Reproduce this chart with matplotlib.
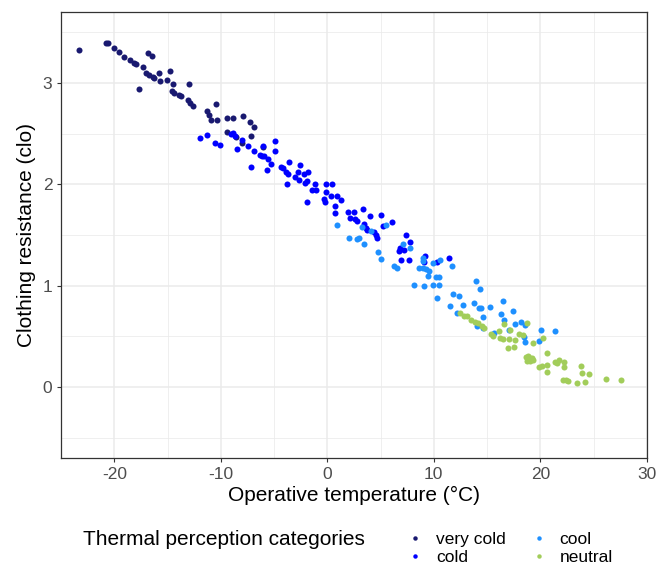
import matplotlib
matplotlib.use("Agg")
import matplotlib.pyplot as plt
from matplotlib.lines import Line2D
import numpy as np

plt.rcParams["font.family"] = ["Liberation Sans", "DejaVu Sans"]
plt.rcParams["axes.unicode_minus"] = False

# operative temperature (degC) and clothing resistance (clo) per category
very_cold_x = [-23.34, -20.78, -20.62, -20.06, -19.53, -19.06, -18.53, -18.13, -17.94, -17.34,
               -16.87, -16.47, -17.03, -16.72, -16.40, -16.25, -15.84, -15.75, -14.78, -15.06,
               -14.47, -17.66, -14.59, -14.38, -13.91, -13.75, -13.12, -12.88, -12.56, -12.97,
               -10.47, -11.25, -11.10, -10.94, -10.37, -9.44, -8.85, -7.87, -7.25, -6.88,
               -9.44, -8.59, -8.00, -7.19, -6.06]
very_cold_y = [3.33, 3.39, 3.39, 3.34, 3.31, 3.26, 3.23, 3.20, 3.19, 3.16,
               3.30, 3.27, 3.10, 3.08, 3.06, 3.05, 3.10, 3.02, 3.12, 3.03,
               2.99, 2.94, 2.92, 2.90, 2.88, 2.87, 2.83, 2.80, 2.77, 2.99,
               2.79, 2.72, 2.68, 2.63, 2.63, 2.65, 2.65, 2.67, 2.61, 2.57,
               2.52, 2.47, 2.41, 2.48, 2.37]

cold_x = [-11.94, -11.25, -10.56, -10.07, -9.06, -8.81, -8.69, -8.43, -7.97, -7.47,
          -7.19, -6.88, -6.32, -6.11, -5.94, -6.00, -5.57, -5.64, -5.25, -4.94,
          -4.94, -4.38, -4.12, -3.91, -3.60, -3.66, -3.75, -3.06, -2.57, -2.76,
          -2.66, -2.19, -1.78, -2.10, -1.94, -1.16, -1.41, -1.10, -1.94, -0.16,
          0.47, -0.09, -0.32, -0.22, 0.37, 0.94, 1.25, 0.71, 0.71, 1.93,
          2.49, 3.34, 2.18, 2.56, 2.75, 3.99, 5.00, 3.43, 3.59, 3.75,
          4.37, 4.62, 4.69, 5.25, 6.12, 7.43, 7.81, 6.87, 6.71, 7.18,
          6.94, 7.71, 9.21, 9.05, 10.31, 11.43]
cold_y = [2.46, 2.49, 2.41, 2.39, 2.50, 2.51, 2.48, 2.35, 2.44, 2.38,
          2.17, 2.33, 2.29, 2.28, 2.28, 2.38, 2.25, 2.14, 2.20, 2.33,
          2.43, 2.17, 2.16, 2.12, 2.22, 2.10, 2.00, 2.07, 2.19, 2.12,
          2.04, 2.10, 2.12, 2.01, 2.03, 2.00, 1.94, 1.94, 1.83, 2.00,
          2.00, 1.92, 1.86, 1.83, 1.88, 1.88, 1.85, 1.79, 1.72, 1.73,
          1.73, 1.76, 1.67, 1.66, 1.64, 1.69, 1.70, 1.61, 1.57, 1.55,
          1.53, 1.50, 1.47, 1.59, 1.63, 1.50, 1.43, 1.37, 1.34, 1.35,
          1.25, 1.25, 1.29, 1.23, 1.23, 1.27]

cool_x = [0.94, 3.28, 4.06, 2.02, 2.81, 2.96, 3.43, 5.56, 7.12, 7.81,
          4.74, 5.06, 6.24, 6.56, 9.00, 9.00, 9.93, 10.62, 11.72, 8.58,
          9.00, 9.31, 9.52, 9.43, 10.24, 10.46, 8.18, 9.12, 9.93, 10.46,
          10.31, 11.81, 12.33, 13.93, 14.30, 12.75, 13.81, 14.21, 14.43, 15.30,
          16.49, 16.31, 16.62, 17.39, 14.62, 14.06, 14.62, 15.61, 17.58, 18.21,
          18.52, 18.43, 17.02, 20.08, 19.90, 21.40, 18.58, 11.49, 12.17]
cool_y = [1.60, 1.58, 1.54, 1.47, 1.46, 1.47, 1.41, 1.60, 1.41, 1.37,
          1.33, 1.26, 1.19, 1.17, 1.27, 1.24, 1.22, 1.25, 1.19, 1.17,
          1.17, 1.16, 1.14, 1.10, 1.09, 1.09, 1.01, 1.00, 1.01, 1.01,
          0.88, 0.92, 0.90, 1.05, 0.97, 0.81, 0.83, 0.78, 0.78, 0.79,
          0.85, 0.72, 0.66, 0.75, 0.69, 0.60, 0.58, 0.53, 0.62, 0.64,
          0.61, 0.49, 0.56, 0.56, 0.45, 0.55, 0.44, 0.80, 0.73]

neutral_x = [12.49, 12.87, 13.15, 13.52, 13.89, 14.11, 14.53, 14.68, 15.37, 15.56,
             16.08, 16.24, 16.49, 16.62, 17.18, 17.02, 17.65, 16.93, 17.55, 18.02,
             18.37, 18.74, 19.33, 20.24, 18.68, 18.87, 18.99, 19.21, 19.05, 19.33,
             18.77, 20.62, 21.40, 21.80, 22.24, 21.61, 20.15, 20.67, 20.62, 19.85,
             22.27, 23.81, 23.90, 24.61, 22.17, 22.43, 22.64, 23.49, 24.21, 26.18,
             27.58]
neutral_y = [0.73, 0.70, 0.70, 0.66, 0.64, 0.63, 0.60, 0.58, 0.52, 0.50,
             0.55, 0.48, 0.47, 0.62, 0.56, 0.47, 0.46, 0.39, 0.40, 0.52,
             0.51, 0.63, 0.43, 0.48, 0.30, 0.31, 0.29, 0.29, 0.26, 0.27,
             0.26, 0.34, 0.25, 0.27, 0.25, 0.24, 0.21, 0.22, 0.15, 0.20,
             0.20, 0.21, 0.14, 0.13, 0.07, 0.07, 0.06, 0.04, 0.05, 0.08,
             0.07]

categories = ["very cold", "cold", "cool", "neutral"]
colors = ["#191970", "#0000FF", "#1E90FF", "#A2CD5A"]
series = [(very_cold_x, very_cold_y), (cold_x, cold_y), (cool_x, cool_y), (neutral_x, neutral_y)]

fig = plt.figure(figsize=(6.58, 5.66), dpi=100)
ax = fig.add_axes([0.0927, 0.1908, 0.8903, 0.788])

for (xs, ys), color in zip(series, colors):
    ax.scatter(xs, ys, s=19, color=color, linewidths=0, zorder=3)

ax.set_xlim(-24.9, 30.0)
ax.set_ylim(-0.70, 3.70)
ax.set_xticks([-20, -10, 0, 10, 20, 30])
ax.set_yticks([0, 1, 2, 3])
ax.set_xticks(np.arange(-25, 31, 5), minor=True)
ax.set_yticks([-0.5, 0.5, 1.5, 2.5, 3.5], minor=True)
ax.grid(True, which="major", color="#EBEBEB", linewidth=1.1, zorder=0)
ax.grid(True, which="minor", color="#EBEBEB", linewidth=0.55, zorder=0)
ax.set_axisbelow(True)
ax.tick_params(which="minor", length=0)
ax.tick_params(which="major", length=3.2, width=0.8, color="#333333",
               labelsize=12.5, labelcolor="#4D4D4D", pad=3)
for spine in ax.spines.values():
    spine.set_color("#333333")
    spine.set_linewidth(0.9)

ax.set_xlabel("Operative temperature (°C)", fontsize=15, labelpad=3)
ax.set_ylabel("Clothing resistance (clo)", fontsize=15, labelpad=4.5)

handles = [Line2D([], [], linestyle="none", marker="o", markersize=3.2,
                  markerfacecolor=c, markeredgewidth=0) for c in colors]
fig.text(0.126, 0.047, "Thermal perception categories", fontsize=15,
         ha="left", va="center")
fig.legend(handles, categories, loc="center left", bbox_to_anchor=(0.623, 0.031),
           ncol=2, frameon=False, fontsize=12.5, handlelength=0.6, handletextpad=0.9,
           labelspacing=0.12, columnspacing=1.6, borderpad=0, borderaxespad=0)

fig.savefig("out.png", dpi=100)
